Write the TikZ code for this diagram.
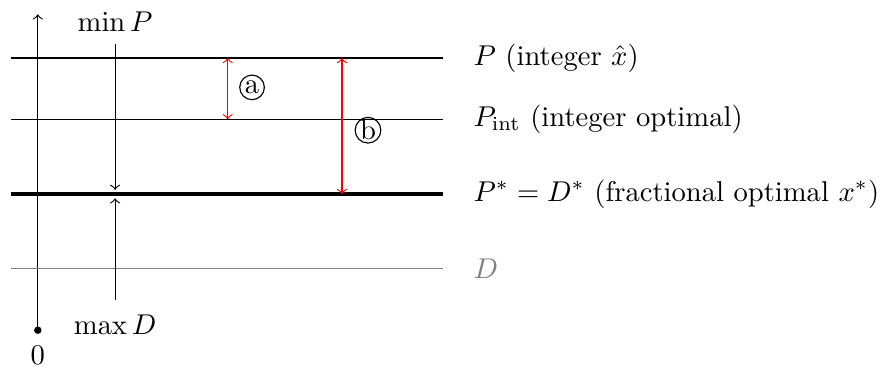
\documentclass[tikz,border=0pt]{standalone}
\usepackage{amsmath,amssymb}
\usetikzlibrary{positioning}

\tikzset{
  level/.style={thin},
  gap/.style={red,<->},
  bound/.style={->},
  lbl/.style={anchor=west,inner sep=0pt},
  mark circ/.style={circle,draw,inner sep=0pt,minimum size=8.6pt},
}

\begin{document}
\begin{tikzpicture}[x=1.032cm,y=1.032cm]
  \useasboundingbox (0,0) rectangle (10.51,4.38);
  % axis
  \coordinate (o) at (.45,.45);
  \coordinate (top) at (.45,4.21);
  \draw [->] (o) -- (top);
  \fill (o) circle (1.3pt);
  \node (zero) [below=2pt of o] {$0$};
  % levels
  \coordinate (pl) at (.13,3.69);  \coordinate (pr) at (5.27,3.69);
  \coordinate (il) at (.13,2.96);  \coordinate (ir) at (5.27,2.96);
  \coordinate (sl) at (.13,2.07);  \coordinate (sr) at (5.27,2.07);
  \coordinate (dl) at (.13,1.18);  \coordinate (dr) at (5.27,1.18);
  \draw [level] (pl) -- (pr);
  \draw [level] (il) -- (ir);
  \draw [line width=1.5pt] (sl) -- (sr);
  \draw [level,gray] (dl) -- (dr);
  \node (tp) [lbl] at (5.63,3.69) {$P$ (integer $\hat{x}$)};
  \node (ti) [lbl] at (5.63,2.96) {$P_{\text{int}}$ (integer optimal)};
  \node (ts) [lbl] at (5.63,2.07) {$P^* = D^*$ (fractional optimal $x^*$)};
  \node (td) [lbl,gray] at (5.63,1.18) {$D$};
  % min / max
  \node (minp) at (1.37,4.12) {$\min P$};
  \node (maxd) at (1.37,.51) {$\max D$};
  \coordinate (m1) at (1.37,3.86);  \coordinate (m2) at (1.37,2.12);
  \coordinate (n1) at (1.37,.81);   \coordinate (n2) at (1.37,2.02);
  \draw [bound] (m1) -- (m2);
  \draw [bound] (n1) -- (n2);
  % gaps
  \coordinate (a1) at (2.71,3.69);  \coordinate (a2) at (2.71,2.96);
  \coordinate (b1) at (4.07,3.69);  \coordinate (b2) at (4.07,2.07);
  \draw [gap] (a1) -- (a2);
  \draw [gap] (b1) -- (b2);
  \node (ga) [mark circ] at (3.0,3.34) {a};
  \node (gb) [mark circ] at (4.38,2.83) {b};
\end{tikzpicture}
\end{document}
